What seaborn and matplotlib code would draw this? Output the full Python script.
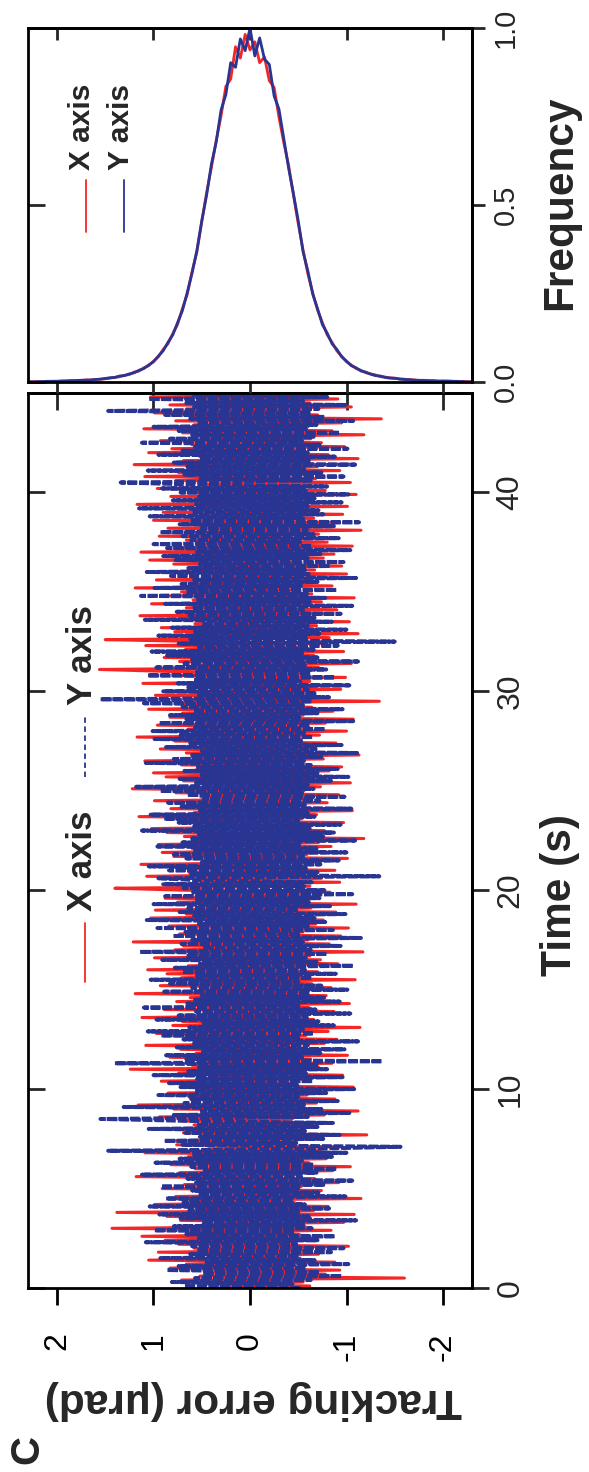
import numpy as np
import matplotlib
matplotlib.use("Agg")
import matplotlib.pyplot as plt
import seaborn as sns

# ---------------- data ----------------
TIME_STEP = 0.1  # s, spacing of the listed samples (t = 0 ... 45 s)

X_ERR = [
    0.35, -0.62, 0.48, -0.55, 0.71, -1.60, 0.52, -0.78, 0.44, -0.93,
    0.83, -0.47, 0.66, -0.88, 1.05, -0.52, 0.38, -0.71, 0.95, -0.60,
    0.58, -1.02, 0.74, -0.45, 0.88, -0.69, 1.12, -0.51, 0.63, -0.84,
    1.43, -0.57, 0.49, -0.97, 0.72, -0.63, 0.86, -1.08, 1.38, -0.66,
    0.54, -0.81, 0.99, -0.46, 0.62, -1.15, 0.77, -0.58, 0.45, -0.74,
    0.91, -0.53, 0.68, -0.92, 0.39, -0.67, 1.18, -0.49, 0.73, -0.86,
    0.57, -1.04, 0.82, -0.61, 0.47, -0.79, 0.64, -0.55, 1.09, -0.72,
    0.43, -0.95, 0.76, -0.48, 0.87, -0.64, 0.52, -1.21, 0.69, -0.57,
    1.01, -0.66, 0.58, -0.83, 0.71, -0.44, 0.94, -0.77, 0.50, -1.12,
    0.79, -0.52, 1.16, -0.69, 0.46, -0.88, 0.63, -0.59, 0.85, -0.73,
    0.55, -1.07, 0.67, -0.48, 0.92, -0.62, 0.41, -0.96, 0.74, -0.54,
    1.24, -0.71, 0.60, -0.85, 0.49, -0.63, 0.83, -1.01, 0.56, -0.68,
    0.72, -0.50, 1.08, -0.77, 0.44, -0.90, 0.65, -0.58, 0.97, -0.81,
    0.53, -1.14, 0.80, -0.46, 0.70, -0.66, 1.12, -0.55, 0.48, -0.87,
    0.89, -0.61, 0.57, -1.03, 0.76, -0.49, 0.62, -0.79, 1.19, -0.58,
    0.47, -0.84, 0.93, -0.64, 0.58, -1.09, 0.71, -0.52, 0.86, -0.70,
    1.06, -0.56, 0.64, -0.91, 0.45, -0.73, 0.99, -0.62, 0.54, -1.17,
    0.78, -0.47, 0.69, -0.82, 1.21, -0.60, 0.50, -0.94, 0.73, -0.55,
    0.61, -1.02, 0.84, -0.68, 0.46, -0.76, 1.03, -0.51, 0.66, -0.89,
    0.98, -0.63, 0.52, -1.10, 0.75, -0.57, 0.88, -0.70, 0.49, -0.83,
    0.67, 1.40, -0.62, 0.81, -0.93, 0.56, -0.74, 1.07, -0.50, 0.63,
    -0.88, 0.72, -0.55, 1.13, -0.66, 0.48, -1.01, 0.79, -0.59, 0.91,
    -0.47, 0.60, -0.84, 0.95, -0.71, 0.53, -1.18, 0.68, -0.52, 0.86,
    -0.77, 1.02, -0.60, 0.45, -0.97, 0.74, -0.54, 1.15, -0.69, 0.58,
    -1.06, 0.82, -0.49, 0.65, -0.80, 0.99, -0.63, 0.51, -0.92, 0.77,
    -0.56, 1.22, -0.73, 0.47, -1.04, 0.69, -0.58, 0.87, -0.65, 1.00,
    -0.82, 0.55, -0.95, 0.71, -0.50, 1.09, -0.76, 0.60, -1.13, 0.66,
    -0.59, 0.93, -0.68, 0.49, -0.89, 0.78, -0.53, 1.17, -0.72, 0.57,
    -1.00, 0.64, -0.61, 0.96, -0.78, 0.52, -1.07, 0.83, -0.55, 0.70,
    -0.86, 1.05, -0.64, 0.58, 0.75, -1.34, 0.61, -0.73, 0.98, -0.55,
    0.69, -0.94, 0.52, -0.80, 1.11, -0.62, 0.47, -0.99, 0.76, -0.57,
    0.84, 1.56, -0.71, 0.60, -1.05, 0.73, -0.53, 0.89, -0.66, 0.55,
    -0.97, 0.67, -0.58, 1.08, -0.75, 0.49, 1.50, -0.82, 0.63, -1.12,
    0.78, -0.54, 0.92, -0.69, 0.57, -1.03, 0.72, -0.61, 1.14, -0.80,
    0.50, -0.90, 0.66, -0.56, 1.02, -0.74, 0.59, -1.08, 0.83, -0.64,
    0.71, -0.49, 1.19, -0.85, 0.54, -0.70, 0.97, -0.60, 0.46, -1.00,
    0.88, -0.67, 0.62, -0.95, 0.79, -0.52, 1.04, -0.76, 0.58, -0.87,
    1.13, -0.58, 0.73, -1.06, 0.51, -0.80, 0.66, -0.62, 0.94, -0.71,
    0.56, -1.15, 0.85, -0.55, 0.68, -0.90, 1.00, -0.66, 0.48, -0.96,
    0.90, -0.60, 0.57, -1.01, 1.17, -0.72, 0.64, -0.53, 0.82, -1.10,
    0.63, -0.78, 0.96, -0.59, 0.50, -1.04, 0.77, -0.68, 1.09, -0.57,
    0.74, -0.93, 0.55, -0.70, 1.20, -0.61, 0.69, -1.12, 0.52, -0.81,
    1.05, -0.56, 0.81, -0.98, 0.60, -0.74, 0.93, -0.63, 0.47, -1.18,
    0.70, -0.85, 1.10, -0.60, 0.58, -0.95, 0.77, -1.36, 0.62, -0.70,
    0.99, -0.57, 0.66, -1.05, 0.83, -0.62, 0.54, -0.91, 1.03, -0.68,
    0.60,
]

Y_ERR = [
    -0.52, 0.68, -0.44, 0.81, -0.63, 0.57, -0.95, 0.49, -0.72, 0.86,
    -0.58, 0.74, -1.02, 0.45, -0.67, 0.93, -0.51, 0.62, -0.84, 0.55,
    -0.97, 0.60, -0.48, 1.08, -0.70, 0.53, -0.88, 0.66, -0.46, 0.99,
    -0.64, 0.79, -0.55, 0.50, -1.10, 0.72, -0.61, 0.94, -0.50, 0.63,
    -0.82, 1.04, -0.57, 0.69, -0.45, 0.87, -0.99, 0.54, -0.71, 0.60,
    -0.50, 0.92, -0.78, 0.56, -1.06, 0.65, -0.53, 1.12, -0.69, 0.47,
    -0.90, 0.61, -0.66, 0.98, -0.54, 0.73, -0.85, 0.58, -1.00, 1.47,
    -0.62, -1.56, 0.70, -0.48, 0.89, -0.76, 0.52, -0.93, 0.67, -0.57,
    1.05, -0.70, 0.55, -0.86, 0.63, 1.55, -0.60, 0.79, -1.03, 0.50,
    -0.74, 1.31, -0.56, 0.68, -0.91, 0.61, -0.50, 0.95, -0.79, 0.57,
    -1.08, 0.72, -0.49, 0.84, -0.65, 0.55, -0.96, 1.00, -0.58, 0.64,
    -0.80, 0.53, -0.69, 1.40, -1.37, 0.66, -0.54, 0.87, -0.73, 0.49,
    -0.98, 0.76, -0.60, 0.58, -1.12, 0.69, -0.50, 0.92, -0.66, 1.06,
    -0.55, 0.63, -0.87, 0.48, -0.71, 0.97, -0.59, 0.74, -1.04, 0.56,
    -0.68, 1.10, -0.52, 0.65, -0.93, 0.57, -0.77, 0.50, -0.62, 0.89,
    -1.01, 0.60, -0.74, 0.83, -0.50, 1.03, -0.64, 0.55, -0.89, 0.70,
    -0.57, 0.78, -1.07, 0.52, -0.69, 0.91, -0.58, 0.66, -0.80, 1.14,
    -0.63, 0.49, -0.94, 0.71, -0.55, 0.60, -1.15, 0.80, -0.52, 0.67,
    -0.86, 0.96, -0.60, 0.53, -0.78, 1.07, -0.67, 0.58, -0.99, 0.73,
    -0.50, 0.64, -0.83, 1.00, -0.61, 0.55, -0.72, 0.88, -1.06, 0.59,
    -0.77, 0.69, -0.56, 0.90, -0.64, 0.52, 0.95, -1.34, 0.61, -0.70,
    0.84, -0.58, 1.05, -0.73, 0.50, -0.92, 0.66, -0.55, 0.79, -1.00,
    0.57, -0.69, 0.96, -0.51, 0.70, -1.09, 0.60, -0.76, 0.53, -0.87,
    1.12, -0.62, 0.58, -0.94, 0.74, -0.50, 0.89, -0.67, 1.03, -0.60,
    0.52, -1.05, 0.71, -0.57, 0.85, -0.72, 0.48, -0.98, 0.65, -0.54,
    0.93, -0.66, 1.18, -0.60, 0.56, -0.84, 0.73, -1.02, 0.50, -0.70,
    0.68, -0.91, 0.54, -0.63, 1.08, -0.56, 0.79, -0.74, 0.60, -1.11,
    0.50, -0.68, 0.87, -0.95, 0.62, -0.53, 0.99, -0.65, 0.72, -0.58,
    1.01, -0.78, 0.57, -0.62, 0.94, -1.07, 0.66, -0.51, 0.83, -0.70,
    0.59, -0.96, 0.70, -0.55, 1.10, -0.64, 1.55, -0.82, 0.53, -0.69,
    0.90, -0.60, 0.64, -1.03, 0.75, -0.52, 0.58, -0.88, 1.06, -0.63,
    0.55, -0.79, 0.97, -0.57, 0.68, -1.12, 0.60, -0.70, 0.86, -0.54,
    1.02, -0.66, 0.53, -0.91, 0.74, -1.50, 0.62, -0.58, 0.95, -0.72,
    0.57, -1.00, 0.81, -0.60, 0.50, -0.85, 1.09, -0.67, 0.63, -0.94,
    0.76, -0.55, 0.60, -1.06, 0.88, -0.62, 0.54, -0.78, 1.13, -0.59,
    0.66, -0.90, 0.99, -0.53, 0.71, -0.70, 0.58, -1.10, 0.82, -0.61,
    1.07, -0.57, 0.64, -0.83, 0.52, -0.97, 0.77, -0.60, 0.90, -0.73,
    0.55, -1.04, 0.86, -0.64, 1.00, -0.52, 0.61, -0.92, 0.70, -0.66,
    0.93, -0.59, 0.50, -0.87, 0.73, -1.13, 0.62, -0.55, 1.04, -0.76,
    0.60, -0.71, 1.15, -0.60, 0.56, -0.95, 0.80, -0.67, 0.53, -1.02,
    0.72, -0.58, 0.91, -0.80, 0.60, 1.34, -0.63, 0.51, -0.97, 0.68,
    -0.74, 1.06, -0.56, 0.65, -1.09, 0.79, -0.61, 0.52, -0.88, 0.95,
    -0.60, 0.70, -1.01, 0.57, -0.72, 1.12, -0.54, 0.83, -0.66, 0.60,
    -0.93, 0.74, -0.58, 1.00, -0.69, 0.55, -1.07, 0.62, -0.77, 0.88,
    -0.63, 1.47, -0.71, 0.58, -0.99, 0.66, -0.55, 1.05, -0.80, 0.60,
    -0.70,
]

# histogram (frequency, normalised to peak) on error bins -2.30 ... 2.30 step 0.05
BIN_START, BIN_STEP = -2.30, 0.05
FREQ_X = [
    0.000, 0.001, 0.002, 0.001, 0.002, 0.003, 0.002, 0.003, 0.004, 0.003,
    0.005, 0.004, 0.006, 0.006, 0.008, 0.009, 0.010, 0.012, 0.014, 0.015,
    0.020, 0.023, 0.026, 0.033, 0.038, 0.048, 0.057, 0.073, 0.088, 0.112,
    0.133, 0.168, 0.203, 0.252, 0.305, 0.372, 0.447, 0.528, 0.612, 0.676,
    0.748, 0.832, 0.851, 0.918, 0.902, 0.961, 0.938,
    0.982, 0.915, 0.947, 0.856, 0.835, 0.752, 0.682, 0.606, 0.534, 0.452,
    0.368, 0.312, 0.248, 0.208, 0.163, 0.137, 0.108, 0.092, 0.071, 0.059,
    0.046, 0.040, 0.031, 0.028, 0.021, 0.019, 0.015, 0.013, 0.011, 0.009,
    0.008, 0.007, 0.005, 0.006, 0.004, 0.004, 0.003, 0.003, 0.002, 0.002,
    0.002, 0.001, 0.001, 0.001, 0.001, 0.000,
]
FREQ_Y = [
    0.001, 0.000, 0.001, 0.002, 0.002, 0.002, 0.003, 0.002, 0.003, 0.004,
    0.004, 0.005, 0.005, 0.007, 0.007, 0.008, 0.011, 0.011, 0.013, 0.017,
    0.018, 0.022, 0.028, 0.031, 0.040, 0.046, 0.059, 0.071, 0.092, 0.108,
    0.138, 0.162, 0.207, 0.248, 0.313, 0.368, 0.455, 0.532, 0.604, 0.688,
    0.771, 0.808, 0.897, 0.912, 0.972, 0.921, 1.000,
    0.936, 0.969, 0.889, 0.902, 0.812, 0.768, 0.678, 0.615, 0.527, 0.455,
    0.372, 0.308, 0.253, 0.202, 0.168, 0.133, 0.112, 0.088, 0.073, 0.057,
    0.048, 0.038, 0.033, 0.026, 0.023, 0.018, 0.017, 0.013, 0.012, 0.010,
    0.008, 0.007, 0.006, 0.005, 0.005, 0.004, 0.004, 0.003, 0.003, 0.002,
    0.002, 0.002, 0.001, 0.001, 0.000, 0.001,
]

ERR_TICKS = [2, 1, 0, -1, -2]
ERR_TICKLABELS = ["2", "1", "0", "-1", "-2"]
TIME_TICKS = [0, 10, 20, 30, 40]
TIME_TICKLABELS = ["0", "10", "20", "30", "40"]
FREQ_TICKS = [0.0, 0.5, 1.0]
FREQ_TICKLABELS = ["0.0", "0.5", "1.0"]
SERIES_NAMES = ["X axis", "Y axis"]

RED = "#f42626"
BLUE = "#283593"

# ---------------- figure ----------------
sns.set_theme(style="ticks")
plt.rcParams["font.family"] = ["Liberation Sans", "DejaVu Sans"]
plt.rcParams["axes.linewidth"] = 2.0

W_PX, H_PX = 589, 1472
fig = plt.figure(figsize=(W_PX / 100, H_PX / 100), dpi=100)
fig.patch.set_facecolor("white")

def frac_box(x0, y0, x1, y1):
    return [x0 / W_PX, 1 - y1 / H_PX, (x1 - x0) / W_PX, (y1 - y0) / H_PX]

ax = fig.add_axes(frac_box(28, 393, 472, 1288))
axf = fig.add_axes(frac_box(28, 28, 472, 382))

t = np.arange(len(X_ERR)) * TIME_STEP
bins = BIN_START + np.arange(len(FREQ_X)) * BIN_STEP

# main time-series panel (rotated: error horizontal, time vertical)
sns.lineplot(x=X_ERR, y=t, sort=False, estimator=None, color=RED,
             linewidth=2.2, ax=ax)
sns.lineplot(x=Y_ERR, y=t, sort=False, estimator=None, color=BLUE,
             linewidth=2.8, ax=ax)
ax.lines[-1].set_linestyle((0, (2.5, 0.5)))

ax.set_xlim(2.3, -2.3)
ax.set_ylim(0, 45)
ax.set_xticks(ERR_TICKS, ERR_TICKLABELS, rotation=90, va="top", ha="center")
ax.set_yticks(TIME_TICKS)
ax.tick_params(axis="x", direction="out", length=12, width=2, labelsize=23,
               pad=20, colors="black")
ax.tick_params(axis="y", direction="in", length=12, width=2, labelleft=False)

sec_top = ax.secondary_xaxis("top")
sec_top.set_xticks(ERR_TICKS)
sec_top.tick_params(direction="in", length=12, width=2, labeltop=False)
sec_right = ax.secondary_yaxis("right")
sec_right.set_yticks(TIME_TICKS, TIME_TICKLABELS, rotation=90, va="center",
                     ha="left")
sec_right.tick_params(direction="out", length=12, width=2, labelsize=23, pad=5)

ax.set_xlabel("Tracking error (\u03bcrad)", fontsize=30.5, fontweight="bold",
              rotation=180, ha="center", va="center")
ax.xaxis.set_label_coords(0.507, -0.125)
ax.set_ylabel("")
ax.text(1.198, 0.439, "Time (s)", transform=ax.transAxes, rotation=90,
        fontsize=30.5, fontweight="bold", ha="center", va="center")

# manual legend, rotated with the figure
ax.text(0.122, 0.477, SERIES_NAMES[0], transform=ax.transAxes, rotation=90,
        fontsize=25, fontweight="bold", ha="center", va="center")
ax.text(0.122, 0.707, SERIES_NAMES[1], transform=ax.transAxes, rotation=90,
        fontsize=25, fontweight="bold", ha="center", va="center")
ax.plot([0.129, 0.129], [0.342, 0.408], transform=ax.transAxes, color=RED,
        lw=1.3)
ax.plot([0.129, 0.129], [0.571, 0.638], transform=ax.transAxes, color=BLUE,
        lw=1.3, linestyle=(0, (3, 2)))

# frequency panel
sns.lineplot(x=bins, y=FREQ_X, sort=False, estimator=None, color=RED,
             linewidth=2.0, ax=axf)
sns.lineplot(x=bins, y=FREQ_Y, sort=False, estimator=None, color=BLUE,
             linewidth=2.0, ax=axf)
axf.set_xlim(2.3, -2.3)
axf.set_ylim(0, 1)
axf.set_xticks(ERR_TICKS)
axf.set_yticks(FREQ_TICKS)
axf.tick_params(axis="x", direction="out", length=8, width=2,
                labelbottom=False)
axf.tick_params(axis="y", direction="in", length=12, width=2, labelleft=False)
fsec_top = axf.secondary_xaxis("top")
fsec_top.set_xticks(ERR_TICKS)
fsec_top.tick_params(direction="in", length=8.5, width=2, labeltop=False)
fsec_right = axf.secondary_yaxis("right")
fsec_right.set_yticks(FREQ_TICKS, FREQ_TICKLABELS, rotation=90, va="center",
                      ha="left")
fsec_right.tick_params(direction="out", length=9.5, width=2, labelsize=21,
                       pad=5)
axf.set_xlabel("")
axf.set_ylabel("")
axf.text(1.198, 0.506, "Frequency", transform=axf.transAxes, rotation=90,
         fontsize=30.5, fontweight="bold", ha="center", va="center")

axf.text(0.122, 0.72, SERIES_NAMES[0], transform=axf.transAxes, rotation=90,
         fontsize=21.5, fontweight="bold", ha="center", va="center")
axf.text(0.209, 0.72, SERIES_NAMES[1], transform=axf.transAxes, rotation=90,
         fontsize=21.5, fontweight="bold", ha="center", va="center")
axf.plot([0.13, 0.13], [0.424, 0.571], transform=axf.transAxes, color=RED,
         lw=1.3)
axf.plot([0.216, 0.216], [0.424, 0.571], transform=axf.transAxes, color=BLUE,
         lw=1.3)

for a in (ax, axf, sec_top, sec_right, fsec_top, fsec_right):
    for sp in a.spines.values():
        sp.set_linewidth(2.0)
        sp.set_color("black")

fig.text(27 / W_PX, 1 - 1450 / H_PX, "C", rotation=90, fontsize=29,
         fontweight="bold", ha="center", va="center")

fig.savefig("out.png", dpi=100, facecolor="white")
